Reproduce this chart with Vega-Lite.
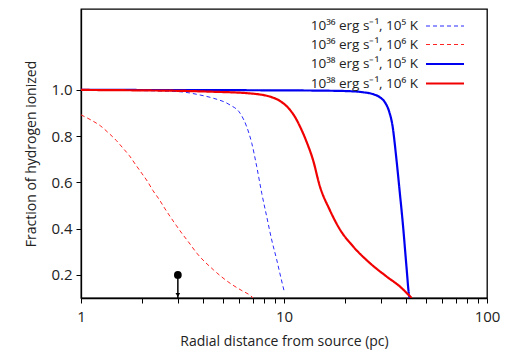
{
  "$schema": "https://vega.github.io/schema/vega-lite/v6.json",
  "width": 406,
  "height": 289,
  "autosize": "none",
  "padding": {"left": 81, "top": 9, "right": 20, "bottom": 57},
  "background": "white",
  "config": {
    "font": "Open Sans",
    "view": {"stroke": "black", "strokeWidth": 1.3},
    "axis": {"grid": false, "domainColor": "black", "tickColor": "black", "labelColor": "#222", "titleColor": "#222", "labelFont": "Open Sans", "titleFont": "Open Sans", "titleFontWeight": "normal"}
  },
  "datasets": {
    "curves": [
      {"series": "10³⁶ erg s⁻¹, 10⁵ K", "x": 1, "y": 0.999},
      {"series": "10³⁶ erg s⁻¹, 10⁵ K", "x": 2, "y": 0.997},
      {"series": "10³⁶ erg s⁻¹, 10⁵ K", "x": 3.08, "y": 0.992},
      {"series": "10³⁶ erg s⁻¹, 10⁵ K", "x": 3.86, "y": 0.978},
      {"series": "10³⁶ erg s⁻¹, 10⁵ K", "x": 4.49, "y": 0.964},
      {"series": "10³⁶ erg s⁻¹, 10⁵ K", "x": 5.42, "y": 0.935},
      {"series": "10³⁶ erg s⁻¹, 10⁵ K", "x": 6.08, "y": 0.899},
      {"series": "10³⁶ erg s⁻¹, 10⁵ K", "x": 6.55, "y": 0.841},
      {"series": "10³⁶ erg s⁻¹, 10⁵ K", "x": 6.94, "y": 0.769},
      {"series": "10³⁶ erg s⁻¹, 10⁵ K", "x": 7.34, "y": 0.668},
      {"series": "10³⁶ erg s⁻¹, 10⁵ K", "x": 7.77, "y": 0.553},
      {"series": "10³⁶ erg s⁻¹, 10⁵ K", "x": 8.22, "y": 0.452},
      {"series": "10³⁶ erg s⁻¹, 10⁵ K", "x": 8.7, "y": 0.351},
      {"series": "10³⁶ erg s⁻¹, 10⁵ K", "x": 9.21, "y": 0.265},
      {"series": "10³⁶ erg s⁻¹, 10⁵ K", "x": 9.7, "y": 0.18},
      {"series": "10³⁶ erg s⁻¹, 10⁵ K", "x": 10.05, "y": 0.125},
      {"series": "10³⁶ erg s⁻¹, 10⁶ K", "x": 1, "y": 0.892},
      {"series": "10³⁶ erg s⁻¹, 10⁶ K", "x": 1.13, "y": 0.868},
      {"series": "10³⁶ erg s⁻¹, 10⁶ K", "x": 1.245, "y": 0.845},
      {"series": "10³⁶ erg s⁻¹, 10⁶ K", "x": 1.37, "y": 0.813},
      {"series": "10³⁶ erg s⁻¹, 10⁶ K", "x": 1.49, "y": 0.782},
      {"series": "10³⁶ erg s⁻¹, 10⁶ K", "x": 1.61, "y": 0.748},
      {"series": "10³⁶ erg s⁻¹, 10⁶ K", "x": 1.73, "y": 0.716},
      {"series": "10³⁶ erg s⁻¹, 10⁶ K", "x": 1.86, "y": 0.676},
      {"series": "10³⁶ erg s⁻¹, 10⁶ K", "x": 1.99, "y": 0.64},
      {"series": "10³⁶ erg s⁻¹, 10⁶ K", "x": 2.13, "y": 0.603},
      {"series": "10³⁶ erg s⁻¹, 10⁶ K", "x": 2.26, "y": 0.565},
      {"series": "10³⁶ erg s⁻¹, 10⁶ K", "x": 2.42, "y": 0.528},
      {"series": "10³⁶ erg s⁻¹, 10⁶ K", "x": 2.58, "y": 0.489},
      {"series": "10³⁶ erg s⁻¹, 10⁶ K", "x": 2.75, "y": 0.452},
      {"series": "10³⁶ erg s⁻¹, 10⁶ K", "x": 2.94, "y": 0.415},
      {"series": "10³⁶ erg s⁻¹, 10⁶ K", "x": 3.15, "y": 0.378},
      {"series": "10³⁶ erg s⁻¹, 10⁶ K", "x": 3.38, "y": 0.343},
      {"series": "10³⁶ erg s⁻¹, 10⁶ K", "x": 3.72, "y": 0.294},
      {"series": "10³⁶ erg s⁻¹, 10⁶ K", "x": 4.49, "y": 0.222},
      {"series": "10³⁶ erg s⁻¹, 10⁶ K", "x": 5.42, "y": 0.164},
      {"series": "10³⁶ erg s⁻¹, 10⁶ K", "x": 6.2, "y": 0.132},
      {"series": "10³⁶ erg s⁻¹, 10⁶ K", "x": 6.8, "y": 0.112},
      {"series": "10³⁶ erg s⁻¹, 10⁶ K", "x": 7.05, "y": 0.1},
      {"series": "10³⁸ erg s⁻¹, 10⁵ K", "x": 1, "y": 1.0},
      {"series": "10³⁸ erg s⁻¹, 10⁵ K", "x": 5, "y": 0.999},
      {"series": "10³⁸ erg s⁻¹, 10⁵ K", "x": 10, "y": 0.998},
      {"series": "10³⁸ erg s⁻¹, 10⁵ K", "x": 15, "y": 0.997},
      {"series": "10³⁸ erg s⁻¹, 10⁵ K", "x": 20.3, "y": 0.995},
      {"series": "10³⁸ erg s⁻¹, 10⁵ K", "x": 24.5, "y": 0.99},
      {"series": "10³⁸ erg s⁻¹, 10⁵ K", "x": 27.4, "y": 0.982},
      {"series": "10³⁸ erg s⁻¹, 10⁵ K", "x": 29.7, "y": 0.968},
      {"series": "10³⁸ erg s⁻¹, 10⁵ K", "x": 31.5, "y": 0.945},
      {"series": "10³⁸ erg s⁻¹, 10⁵ K", "x": 33.0, "y": 0.905},
      {"series": "10³⁸ erg s⁻¹, 10⁵ K", "x": 34.3, "y": 0.841},
      {"series": "10³⁸ erg s⁻¹, 10⁵ K", "x": 35.6, "y": 0.72},
      {"series": "10³⁸ erg s⁻¹, 10⁵ K", "x": 37.2, "y": 0.555},
      {"series": "10³⁸ erg s⁻¹, 10⁵ K", "x": 38.6, "y": 0.41},
      {"series": "10³⁸ erg s⁻¹, 10⁵ K", "x": 40.1, "y": 0.237},
      {"series": "10³⁸ erg s⁻¹, 10⁵ K", "x": 41.3, "y": 0.113},
      {"series": "10³⁸ erg s⁻¹, 10⁵ K", "x": 41.6, "y": 0.1},
      {"series": "10³⁸ erg s⁻¹, 10⁶ K", "x": 1, "y": 1.0},
      {"series": "10³⁸ erg s⁻¹, 10⁶ K", "x": 2, "y": 0.998},
      {"series": "10³⁸ erg s⁻¹, 10⁶ K", "x": 3.08, "y": 0.996},
      {"series": "10³⁸ erg s⁻¹, 10⁶ K", "x": 4.5, "y": 0.992},
      {"series": "10³⁸ erg s⁻¹, 10⁶ K", "x": 6.55, "y": 0.986},
      {"series": "10³⁸ erg s⁻¹, 10⁶ K", "x": 8.53, "y": 0.971},
      {"series": "10³⁸ erg s⁻¹, 10⁶ K", "x": 9.56, "y": 0.952},
      {"series": "10³⁸ erg s⁻¹, 10⁶ K", "x": 10.7, "y": 0.914},
      {"series": "10³⁸ erg s⁻¹, 10⁶ K", "x": 11.2, "y": 0.89},
      {"series": "10³⁸ erg s⁻¹, 10⁶ K", "x": 12.0, "y": 0.841},
      {"series": "10³⁸ erg s⁻¹, 10⁶ K", "x": 12.9, "y": 0.777},
      {"series": "10³⁸ erg s⁻¹, 10⁶ K", "x": 13.9, "y": 0.697},
      {"series": "10³⁸ erg s⁻¹, 10⁶ K", "x": 15.0, "y": 0.585},
      {"series": "10³⁸ erg s⁻¹, 10⁶ K", "x": 16.8, "y": 0.481},
      {"series": "10³⁸ erg s⁻¹, 10⁶ K", "x": 18.9, "y": 0.395},
      {"series": "10³⁸ erg s⁻¹, 10⁶ K", "x": 21.9, "y": 0.323},
      {"series": "10³⁸ erg s⁻¹, 10⁶ K", "x": 26.5, "y": 0.251},
      {"series": "10³⁸ erg s⁻¹, 10⁶ K", "x": 32.0, "y": 0.193},
      {"series": "10³⁸ erg s⁻¹, 10⁶ K", "x": 37.2, "y": 0.15},
      {"series": "10³⁸ erg s⁻¹, 10⁶ K", "x": 42.5, "y": 0.1}
    ],
    "marker": [{"x": 3, "y": 0.2, "yend": 0.1, "ytip": 0.113}]
  },
  "layer": [
    {
      "data": {"name": "curves"},
      "mark": {"type": "line", "clip": true, "interpolate": "monotone"},
      "encoding": {
        "x": {
          "field": "x", "type": "quantitative",
          "scale": {"type": "log", "domain": [1, 100], "nice": false},
          "axis": {
            "title": "Radial distance from source (pc)",
            "values": [1, 2, 3, 4, 5, 6, 7, 8, 9, 10, 20, 30, 40, 50, 60, 70, 80, 90, 100],
            "labelExpr": "datum.value == 1 || datum.value == 10 || datum.value == 100 ? datum.value : ''",
            "labelFontSize": 15, "titleFontSize": 14, "tickSize": 5, "labelPadding": 6, "titlePadding": 10,
            "labelFlush": false, "domainWidth": 1.3
          }
        },
        "y": {
          "field": "y", "type": "quantitative",
          "scale": {"domain": [0.1, 1.35], "nice": false, "zero": false},
          "axis": {
            "title": "Fraction of hydrogen ionized",
            "values": [0.2, 0.4, 0.6, 0.8, 1.0],
            "format": ".1f",
            "labelFontSize": 15, "titleFontSize": 14, "tickSize": 5, "labelPadding": 4, "titlePadding": 12,
            "domainWidth": 1.3
          }
        },
        "color": {
          "field": "series", "type": "nominal",
          "scale": {
            "domain": ["10³⁶ erg s⁻¹, 10⁵ K", "10³⁶ erg s⁻¹, 10⁶ K", "10³⁸ erg s⁻¹, 10⁵ K", "10³⁸ erg s⁻¹, 10⁶ K"],
            "range": ["#2a2aff", "#ff2424", "#0000f0", "#f00000"]
          },
          "legend": {
            "title": null,
            "orient": "none",
            "legendX": 353,
            "legendY": 7,
            "symbolType": "M-2,0H2",
            "symbolSize": 361,
            "labelAlign": "right",
            "labelOffset": -38,
            "labelFontSize": 13.5,
            "labelColor": "#222",
            "labelFont": "Open Sans",
            "rowPadding": 1.5,
            "labelLimit": 300
          }
        },
        "strokeDash": {
          "field": "series", "type": "nominal",
          "scale": {
            "domain": ["10³⁶ erg s⁻¹, 10⁵ K", "10³⁶ erg s⁻¹, 10⁶ K", "10³⁸ erg s⁻¹, 10⁵ K", "10³⁸ erg s⁻¹, 10⁶ K"],
            "range": [[4, 3], [4, 3], [1, 0], [1, 0]]
          }
        },
        "strokeWidth": {
          "field": "series", "type": "nominal",
          "scale": {
            "type": "ordinal",
            "domain": ["10³⁶ erg s⁻¹, 10⁵ K", "10³⁶ erg s⁻¹, 10⁶ K", "10³⁸ erg s⁻¹, 10⁵ K", "10³⁸ erg s⁻¹, 10⁶ K"],
            "range": [1, 1, 2.2, 2.2]
          }
        }
      }
    },
    {
      "data": {"name": "marker"},
      "mark": {"type": "rule", "color": "black", "strokeWidth": 1.5},
      "encoding": {
        "x": {"field": "x", "type": "quantitative"},
        "y": {"field": "y", "type": "quantitative"},
        "y2": {"field": "yend"}
      }
    },
    {
      "data": {"name": "marker"},
      "mark": {"type": "point", "filled": true, "color": "black", "opacity": 1, "size": 60},
      "encoding": {
        "x": {"field": "x", "type": "quantitative"},
        "y": {"field": "y", "type": "quantitative"}
      }
    },
    {
      "data": {"name": "marker"},
      "mark": {"type": "point", "shape": "triangle-down", "filled": true, "color": "black", "opacity": 1, "size": 22},
      "encoding": {
        "x": {"field": "x", "type": "quantitative"},
        "y": {"field": "ytip", "type": "quantitative"}
      }
    }
  ]
}
